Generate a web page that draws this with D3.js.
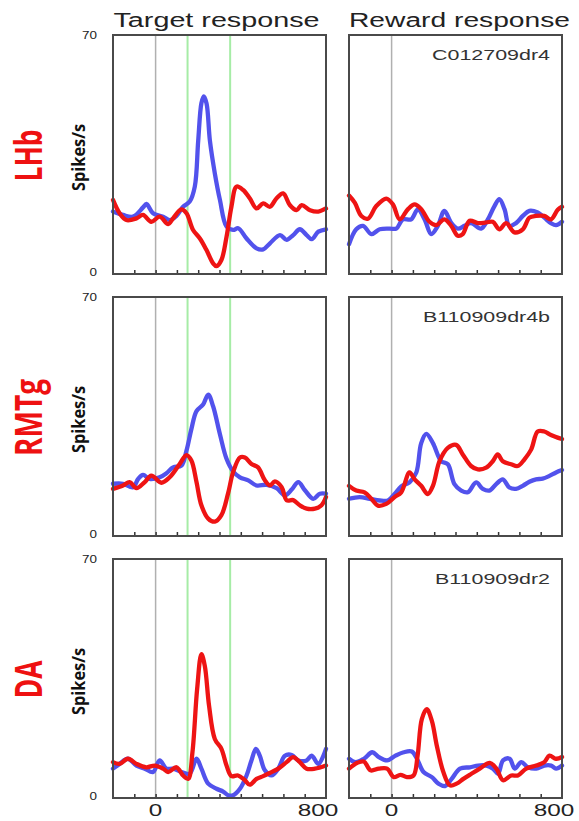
<!DOCTYPE html>
<html>
<head>
<meta charset="utf-8">
<script src="https://cdn.jsdelivr.net/npm/d3@7"></script>
<style>
  body { margin: 0; background: #fff; }
  svg { display: block; }
</style>
</head>
<body>
<svg id="chart" width="579" height="821"></svg>
<script>
// rows / columns of the figure
var regions = ["LHb", "RMTg", "DA"];
var columns = ["Target response", "Reward response"];
var unitIds = ["C012709dr4", "B110909dr4b", "B110909dr2"];
var yTickLabels = [0, 70];
var xTickValues = [-100, 0, 100, 200, 300, 400, 500, 600, 700];
var xTickLabels = [0, 800];
var targetMarks = [150, 350];   // green lines in the target column

// [time ms, spikes/s]
var lhbTargetBlue = [[-200,18.3],[-153,17.3],[-106,16.8],[-59,19.5],[-43,20.5],[-12,17.8],[35,16.8],[66,15.8],[98,17],[129,19.7],[160,21.2],[184,25.6],[200,39],[215,50],[226,52],[239,50],[255,39],[278,29.5],[302,21.7],[333,13.9],[364,12.9],[388,13.4],[427,10.4],[474,7.5],[505,7.2],[537,9],[584,11.4],[615,10],[646,11.4],[677,13.1],[709,11.4],[733,10.2],[764,12.4],[800,13.1]];
var lhbTargetRed = [[-200,21.7],[-169,17.8],[-137,15.8],[-90,16.3],[-59,17.3],[-20,15.3],[19,16.8],[59,14.6],[82,16.3],[121,18.9],[145,17.8],[176,12.9],[208,10.4],[239,7],[270,3.1],[286,2.3],[309,4.1],[333,10.9],[356,19.7],[380,25.6],[411,24.6],[442,22.2],[474,19.2],[505,20.7],[537,19.7],[568,22.2],[599,23.6],[630,20.2],[662,18.7],[686,20.2],[725,18.7],[764,18.3],[800,19.2]];
var lhbRewardBlue = [[-200,8.7],[-166,13.1],[-134,14.1],[-95,11.7],[-56,13.1],[-9,13.3],[22,13.3],[53,16],[92,16],[123,18.9],[155,16],[186,11.7],[217,14.1],[248,18.5],[280,15],[311,13.3],[342,14.1],[373,14.9],[420,13.3],[452,16],[483,19.9],[506,21.9],[530,19],[553,14.1],[584,14.9],[616,17],[647,18.5],[686,18],[717,16.5],[748,14.9],[772,14.3],[800,15.3]];
var lhbRewardRed = [[-200,23],[-173,20.9],[-142,17],[-111,16.2],[-72,19.9],[-25,22.1],[6,20.4],[38,16],[77,19],[108,20.4],[139,19],[178,15.3],[209,14.3],[248,16],[280,14.1],[311,11.2],[334,11.7],[366,15.6],[405,14.9],[444,15.1],[475,15.3],[506,13.1],[538,14.9],[577,12.2],[616,13.1],[647,16.5],[678,17],[717,17],[748,16],[780,18.8],[800,19.7]];

var rmtgTargetBlue = [[-200,15.3],[-153,15.3],[-106,14.3],[-82,16.7],[-59,17.9],[-28,16.7],[19,17.2],[51,18.4],[82,20.1],[121,20.6],[145,25],[168,31.3],[192,36.6],[223,38.5],[247,41.4],[270,38],[302,29.8],[333,22.6],[364,18.9],[396,17.2],[435,16.3],[474,14.8],[521,15],[568,14],[607,11.9],[639,13.6],[670,15.8],[701,13.4],[740,10.9],[771,12.4],[800,12.4]];
var rmtgTargetRed = [[-200,13.8],[-153,14.8],[-122,15.8],[-90,14],[-51,15.8],[-20,17.7],[27,15.6],[66,17.2],[113,21.1],[145,23.7],[168,22.1],[192,15.8],[215,9],[247,5.1],[278,4.2],[309,6.1],[340,12.4],[364,18.7],[396,23],[419,23],[450,21.1],[481,20.1],[513,16.3],[537,14.8],[560,16],[592,14.3],[615,10.5],[646,10.5],[677,9],[709,8],[748,8],[779,9],[800,11.4]];
var rmtgRewardBlue = [[-200,10.9],[-150,11.4],[-103,10.9],[-56,10.4],[-17,10.4],[14,12.3],[45,14.5],[84,15.7],[116,18.6],[139,27.2],[163,29.9],[194,27.2],[233,21.9],[264,21],[295,15.2],[327,13.3],[358,12.8],[397,15.7],[428,13.8],[459,13.3],[491,15.2],[522,16.6],[553,14.2],[584,13.8],[616,14.7],[647,15.9],[678,16.6],[709,16.8],[741,17.6],[772,18.6],[800,19.3]];
var rmtgRewardRed = [[-200,14.7],[-166,13.3],[-127,12.8],[-95,10.9],[-64,8.9],[-25,9.4],[14,11.4],[45,12.8],[84,18.6],[108,16.6],[139,14.7],[170,12.3],[194,14.7],[225,21.9],[264,25.8],[303,26.7],[334,23.9],[373,20.5],[405,19.5],[444,20],[475,21.9],[498,23.9],[522,21.9],[561,21],[592,20.5],[623,22.4],[655,25.3],[686,30.6],[717,30.6],[748,29.6],[800,28.4]];

var daTargetBlue = [[-200,8.6],[-169,10],[-130,11.5],[-90,9.5],[-51,8.6],[-12,7.6],[19,11],[51,8.6],[82,8.6],[121,7.6],[160,7.1],[192,11.5],[215,8.6],[247,4.2],[286,2.7],[317,1.9],[340,0.8],[364,0.8],[396,2.7],[427,6.6],[450,11],[471,14.4],[489,12.4],[513,8.1],[544,6.6],[576,8.6],[607,12.4],[639,12.6],[670,11],[709,11],[733,12.4],[764,10],[800,14.4]];
var daTargetRed = [[-200,10.5],[-169,10],[-130,11.5],[-90,10],[-43,9],[-4,9.5],[35,8.6],[59,7.6],[98,9],[129,6.6],[153,5.6],[173,13.4],[195,31.9],[215,42.1],[231,38.7],[251,27],[278,17.3],[309,14.4],[333,9.5],[356,6.4],[387,6.6],[419,5.2],[442,3.9],[474,5.6],[505,6.4],[544,7.6],[576,8.6],[615,10.5],[646,12],[677,10.5],[709,8.6],[748,8.6],[800,9.5]];
var daRewardBlue = [[-200,11.5],[-169,10.5],[-130,11.5],[-91,13.4],[-60,12],[-21,11],[18,12.4],[57,13.4],[95,13.6],[119,11.5],[150,7.6],[189,6.1],[220,4.2],[251,3.5],[282,5.6],[321,8.6],[368,9],[406,9.5],[445,9.5],[476,8.6],[500,7.1],[523,11],[554,11.5],[578,8.6],[609,10.5],[640,9],[679,8.6],[717,9.5],[749,9.5],[772,8.6],[800,9.5]];
var daRewardRed = [[-200,8.6],[-161,10.3],[-130,10.7],[-99,8.1],[-60,8.6],[-21,8.6],[10,6.1],[41,6.8],[72,6.1],[103,6.6],[122,12.4],[142,23.1],[165,26],[189,22.6],[212,15.4],[243,7.6],[274,3.7],[305,4.2],[337,5.6],[375,7.1],[414,8.6],[461,10.3],[492,8.6],[523,5.2],[562,6.6],[593,6.6],[632,8.6],[679,9.5],[717,10.5],[741,12.4],[772,11.5],[800,12]];

var panelData = [
  [[lhbTargetBlue, lhbTargetRed], [lhbRewardBlue, lhbRewardRed]],
  [[rmtgTargetBlue, rmtgTargetRed], [rmtgRewardBlue, rmtgRewardRed]],
  [[daTargetBlue, daTargetRed], [daRewardBlue, daRewardRed]]
];

// layout
var colLeft = [113, 349], panelW = 213;
var rowTop = [35, 297, 559], panelH = 239;
var colors = ["#5252ec", "#ee1414"];

var svg = d3.select("#chart");

var xScales = colLeft.map(function (l) {
  return d3.scaleLinear().domain([-200, 800]).range([l, l + panelW]);
});

// column titles
var titleLen = [206, 221];
svg.selectAll("text.title")
    .data(columns)
  .enter().append("text")
    .attr("class", "title")
    .attr("x", function (d, i) { return colLeft[i] + panelW / 2 + (i ? 4 : -3); })
    .attr("y", 27)
    .attr("text-anchor", "middle")
    .attr("textLength", function (d, i) { return titleLen[i]; })
    .attr("lengthAdjust", "spacingAndGlyphs")
    .style("font-family", "'Liberation Sans', Arial, sans-serif")
    .style("font-size", "20px")
    .style("fill", "#222")
    .text(function (d) { return d; });

var regionLen = [52, 77, 38];
var idLen = [118, 127, 115];

regions.forEach(function (region, r) {
  var top = rowTop[r];
  var y = d3.scaleLinear().domain([0, 70]).range([top + panelH, top]);
  var mid = top + panelH / 2;

  // region name
  svg.append("text")
      .attr("transform", "translate(42," + (mid + 1) + ") rotate(-90)")
      .attr("text-anchor", "middle")
      .attr("textLength", regionLen[r])
      .attr("lengthAdjust", "spacingAndGlyphs")
      .style("font-family", "'Open Sans', 'Noto Sans', sans-serif")
      .style("font-weight", "bold")
      .style("font-size", "38px")
      .style("fill", "#ee1111")
      .text(region);

  svg.append("text")
      .attr("transform", "translate(85," + (mid + 3) + ") rotate(-90)")
      .attr("text-anchor", "middle")
      .attr("textLength", 67)
      .attr("lengthAdjust", "spacingAndGlyphs")
      .style("font-family", "'Open Sans', 'Noto Sans', sans-serif")
      .style("font-weight", "bold")
      .style("font-size", "17px")
      .style("fill", "#111")
      .text("Spikes/s");

  // y tick labels, left column only
  svg.selectAll(null)
      .data(yTickLabels)
    .enter().append("text")
      .attr("x", 97)
      .attr("y", function (d) { return y(d) + (d ? 0 : -2); })
      .attr("dy", "0.35em")
      .attr("text-anchor", "end")
      .attr("textLength", function (d) { return String(d).length * 7.5; })
      .attr("lengthAdjust", "spacingAndGlyphs")
      .style("font-family", "'Liberation Sans', Arial, sans-serif")
      .style("font-size", "11px")
      .style("fill", "#222")
      .text(function (d) { return d; });

  columns.forEach(function (col, c) {
    var x = xScales[c];
    var g = svg.append("g");

    g.append("rect")
        .attr("x", x.range()[0]).attr("y", top)
        .attr("width", panelW).attr("height", panelH)
        .attr("fill", "#fff");

    // event lines
    g.append("line")
        .attr("x1", x(0)).attr("x2", x(0))
        .attr("y1", top).attr("y2", top + panelH)
        .attr("stroke", "#b0b0b0").attr("stroke-width", 1.5);

    if (c === 0) {
      g.selectAll("line.mark")
          .data(targetMarks)
        .enter().append("line")
          .attr("class", "mark")
          .attr("x1", function (d) { return x(d); })
          .attr("x2", function (d) { return x(d); })
          .attr("y1", top).attr("y2", top + panelH)
          .attr("stroke", "#a6eca6").attr("stroke-width", 2);
    }

    var line = d3.line()
        .x(function (d) { return x(d[0]); })
        .y(function (d) { return y(d[1]); })
        .curve(d3.curveCatmullRom.alpha(0.5));

    g.selectAll("path.trace")
        .data(panelData[r][c])
      .enter().append("path")
        .attr("class", "trace")
        .attr("d", line)
        .attr("fill", "none")
        .attr("stroke", function (d, i) { return colors[i]; })
        .attr("stroke-width", 4.3)
        .attr("stroke-linejoin", "round")
        .attr("stroke-linecap", "round");

    // inward ticks on the bottom edge
    g.append("g")
        .attr("transform", "translate(0," + (top + panelH) + ")")
        .call(d3.axisBottom(x).tickValues(xTickValues).tickSize(-4).tickFormat(""))
        .call(function (a) {
          a.select(".domain").remove();
          a.selectAll(".tick line").attr("stroke", "#333").attr("stroke-width", 1.5);
        });

    g.append("rect")
        .attr("x", x.range()[0]).attr("y", top)
        .attr("width", panelW).attr("height", panelH)
        .attr("fill", "none")
        .attr("stroke", "#4a4a4a")
        .attr("stroke-width", 2);

    if (c === 1) {
      g.append("text")
          .attr("x", x.range()[1] - 12)
          .attr("y", top + 25)
          .attr("text-anchor", "end")
          .attr("textLength", idLen[r])
          .attr("lengthAdjust", "spacingAndGlyphs")
          .style("font-family", "'Liberation Sans', Arial, sans-serif")
          .style("font-size", "15px")
          .style("fill", "#333")
          .text(unitIds[r]);
    }

    if (r === regions.length - 1) {
      g.selectAll("text.xlab")
          .data(xTickLabels)
        .enter().append("text")
          .attr("class", "xlab")
          .attr("x", function (d) { return x(d) + (d === 800 ? -8 : 0); })
          .attr("y", 816)
          .attr("text-anchor", "middle")
          .attr("textLength", function (d) { return String(d).length * 13.5; })
          .attr("lengthAdjust", "spacingAndGlyphs")
          .style("font-family", "'Liberation Sans', Arial, sans-serif")
          .style("font-size", "17px")
          .style("fill", "#222")
          .text(function (d) { return d; });
    }
  });
});
</script>
</body>
</html>
